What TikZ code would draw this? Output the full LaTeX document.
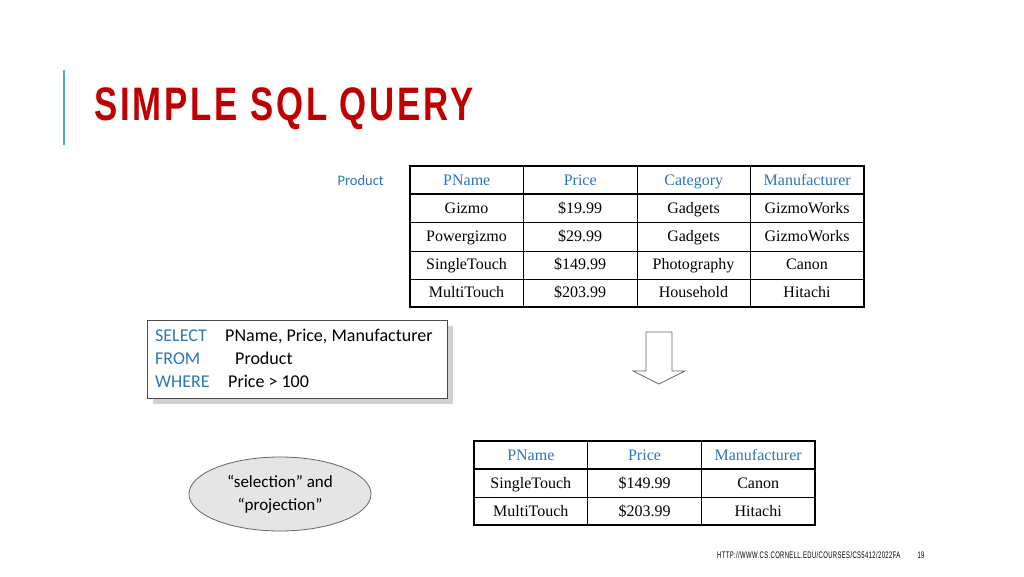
\documentclass[tikz,border=0pt]{standalone}
\usepackage{fontspec}
\setmainfont{Liberation Serif}
\newfontfamily\titlefont[FakeStretch=0.74,LetterSpace=6]{Liberation Sans Bold}
\newfontfamily\sqlfont{Carlito}
\newfontfamily\footfont[FakeStretch=0.62,LetterSpace=4]{Liberation Sans}
\usetikzlibrary{shapes.geometric}
\definecolor{hdr}{RGB}{46,117,182}
\definecolor{ttl}{RGB}{192,0,0}
\definecolor{bar}{RGB}{75,172,198}
\tikzset{
  cell/.style={font=\fontsize{16}{16}\selectfont, inner sep=0pt, text height=11pt, text depth=3pt},
  head/.style={cell, text=hdr},
  grid/.style={line width=0.8pt},
  frame/.style={line width=2pt},
  sql/.style={font=\sqlfont\fontsize{18}{18}\selectfont, anchor=west, inner sep=0pt, text height=12pt, text depth=4pt},
}
\begin{document}
\begin{tikzpicture}[x=1pt,y=-1pt]
\useasboundingbox (0,0) rectangle (1024,576);
\fill[white] (0,0) rectangle (1024,576);
% title
\draw[bar, line width=2pt] (64,70) -- (64,145);
\node[anchor=west, inner sep=0pt, text=ttl, font=\titlefont\fontsize{47}{47}\selectfont] (title) at (94,109) {SIMPLE SQL QUERY};
\node[anchor=east, inner sep=0pt, text=hdr, font=\sqlfont\fontsize{14.5}{14}\selectfont] (prodlbl) at (384,181) {Product};
% table 1
\foreach \y in {194,222,251,279} \draw[grid] (410,\y) -- (864,\y);
\foreach \x in {523,637,750} \draw[grid] (\x,166) -- (\x,307);
\draw[frame] (410,166) rectangle (864,307);
\draw[frame] (410,194) -- (864,194);
\foreach \t [count=\i] in {PName,Price,Category,Manufacturer}
  \node[head] (ha\i) at ({410+113.5*(\i-0.5)},181) {\t};
\foreach \a/\b/\c/\d [count=\r] in {Gizmo/\$19.99/Gadgets/GizmoWorks,Powergizmo/\$29.99/Gadgets/GizmoWorks,SingleTouch/\$149.99/Photography/Canon,MultiTouch/\$203.99/Household/Hitachi}{
  \node[cell] (a\r c1) at (466.5,{209+28.25*(\r-1)}) {\a};
  \node[cell] (a\r c2) at (580,{209+28.25*(\r-1)}) {\b};
  \node[cell] (a\r c3) at (693.5,{209+28.25*(\r-1)}) {\c};
  \node[cell] (a\r c4) at (807,{209+28.25*(\r-1)}) {\d};
}
% SQL box
\fill[black!18] (153,326) rectangle (453,404);
\draw[fill=white, line width=0.8pt, draw=black!70] (147,320) rectangle (447,398);
\node[sql, text=hdr] (k1) at (155,337) {SELECT};
\node[sql, text=hdr] (k2) at (155,360) {FROM};
\node[sql, text=hdr] (k3) at (155,383) {WHERE};
\node[sql] (v1) at (225,337) {PName, Price, Manufacturer};
\node[sql] (v2) at (235,360) {Product};
\node[sql] (v3) at (228,383) {Price > 100};
% arrow
\draw[black!60, line width=0.8pt, fill=white] (646,332) -- (672,332) -- (672,371) -- (685,371) -- (659,384) -- (633,371) -- (646,371) -- cycle;
% table 2
\foreach \y in {469,497} \draw[grid] (474,\y) -- (815,\y);
\foreach \x in {587,701} \draw[grid] (\x,441) -- (\x,525);
\draw[frame] (474,441) rectangle (815,525);
\draw[frame] (474,469) -- (815,469);
\foreach \t [count=\i] in {PName,Price,Manufacturer}
  \node[head] (hb\i) at ({474+113.67*(\i-0.5)},456) {\t};
\foreach \a/\b/\c [count=\r] in {SingleTouch/\$149.99/Canon,MultiTouch/\$203.99/Hitachi}{
  \node[cell] (b\r c1) at (530.8,{484+28*(\r-1)}) {\a};
  \node[cell] (b\r c2) at (644.5,{484+28*(\r-1)}) {\b};
  \node[cell] (b\r c3) at (758.2,{484+28*(\r-1)}) {\c};
}
% ellipse
\node[ellipse, draw=black!60, line width=0.8pt, fill=black!10, minimum width=182pt, minimum height=74pt, align=center, font=\sqlfont\fontsize{17}{23}\selectfont] (ell) at (280,494) {“selection” and\\“projection”};
% footer
\node[anchor=west, inner sep=0pt, font=\footfont\fontsize{9.5}{10}\selectfont] (foot) at (717,555) {HTTP://WWW.CS.CORNELL.EDU/COURSES/CS5412/2022FA};
\node[inner sep=0pt, font=\footfont\fontsize{9.5}{10}\selectfont] (pg) at (921,555) {19};
\end{tikzpicture}
\end{document}
